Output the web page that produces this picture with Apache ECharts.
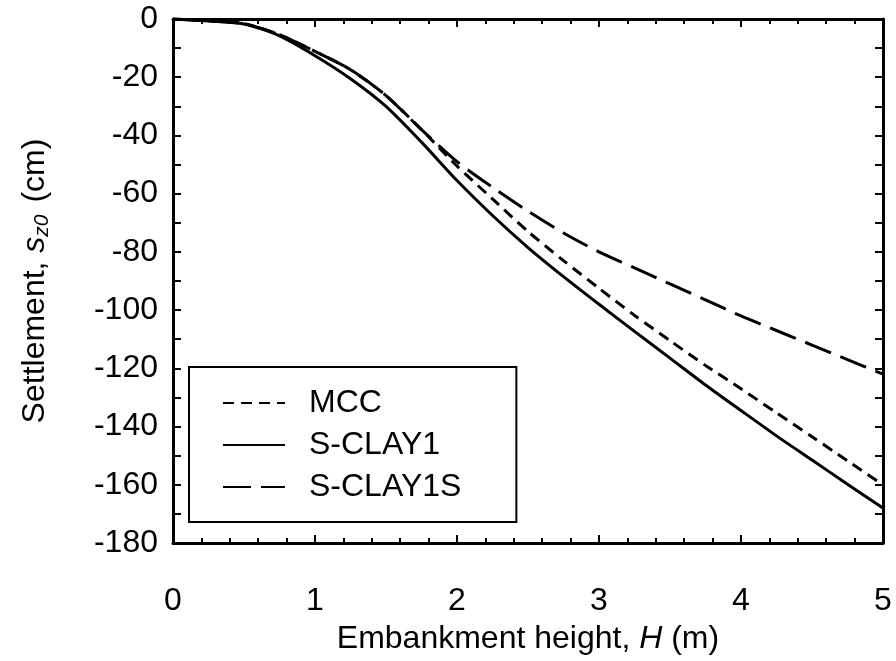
<!DOCTYPE html>
<html>
<head>
<meta charset="utf-8">
<script src="https://cdn.jsdelivr.net/npm/echarts@6/dist/echarts.min.js"></script>
<style>
  html, body { margin: 0; padding: 0; background: #fff; }
  #chart { width: 896px; height: 661px; }
</style>
</head>
<body>
<div id="chart"></div>
<script>
// Embankment height H (m)
var heights = [0, 0.25, 0.5, 0.75, 1.0, 1.25, 1.5, 1.75, 2.0, 2.25, 2.5, 2.75, 3.0, 3.25, 3.5, 3.75, 4.0, 4.25, 4.5, 4.75, 5.0];

// Centre-line settlement s_z0 (cm) for each constitutive model
var mccSettlement = [0, -0.6, -1.6, -5.4, -11.1, -17.4, -26.3, -38.0, -50.5, -61.8, -73.0, -83.0, -92.5, -101.8, -110.5, -119.0, -127.0, -135.3, -143.5, -151.8, -160.0];
var sclay1Settlement = [0, -0.7, -1.7, -5.8, -12.6, -20.5, -30.0, -42.3, -55.5, -67.5, -78.5, -88.5, -98.0, -107.3, -116.5, -125.7, -134.5, -143.2, -151.5, -159.8, -168.0];
var sclay1sSettlement = [0, -0.6, -1.6, -5.4, -11.1, -17.4, -26.3, -38.0, -49.0, -57.8, -66.0, -73.5, -80.0, -85.5, -91.0, -96.5, -102.0, -107.0, -112.0, -117.0, -122.0];

var seriesNames = ['MCC', 'S-CLAY1', 'S-CLAY1S'];

var FONT = "'Liberation Sans', Arial, Helvetica, sans-serif";
var FS = 32;

function pairs(xs, ys) {
  return xs.map(function (x, i) { return [x, ys[i]]; });
}

var chart = echarts.init(document.getElementById('chart'), null, { renderer: 'canvas' });

var axisLine = { onZero: false, lineStyle: { color: '#000', width: 3 } };
var xTick = { inside: true, length: 8, lineStyle: { color: '#000', width: 2 } };
var xMinor = { show: true, splitNumber: 5, length: 5, lineStyle: { color: '#000', width: 2 } };
var yTick = { inside: true, length: 8, lineStyle: { color: '#000', width: 2 } };
var yMinor = { show: true, splitNumber: 2, length: 8, lineStyle: { color: '#000', width: 2 } };

var option = {
  backgroundColor: '#fff',
  animation: false,
  grid: { left: 173, right: 13, top: 19, bottom: 118, containLabel: false },
  xAxis: [
    {
      type: 'value', min: 0, max: 5, interval: 1, position: 'bottom',
      axisLine: axisLine, axisTick: xTick, minorTick: xMinor,
      splitLine: { show: false },
      axisLabel: { margin: 42, fontSize: FS, color: '#000', fontFamily: FONT },
      name: '{a|Embankment height, }{i|H}{a| (m)}',
      nameLocation: 'middle', nameGap: 80,
      nameTextStyle: {
        rich: {
          a: { fontSize: FS, color: '#000', fontFamily: FONT },
          i: { fontSize: FS, color: '#000', fontFamily: FONT, fontStyle: 'italic' }
        }
      }
    },
    {
      type: 'value', min: 0, max: 5, interval: 1, position: 'top',
      axisLine: axisLine, axisTick: xTick, minorTick: xMinor,
      splitLine: { show: false }, axisLabel: { show: false }
    }
  ],
  yAxis: [
    {
      type: 'value', min: -180, max: 0, interval: 20, position: 'left',
      axisLine: axisLine, axisTick: yTick, minorTick: yMinor,
      splitLine: { show: false },
      axisLabel: { margin: 15, fontSize: FS, color: '#000', fontFamily: FONT },
      name: '{a|Settlement, }{i|s}{sub|z0}{a| (cm)}',
      nameLocation: 'middle', nameGap: 119, nameRotate: 90,
      nameTextStyle: {
        rich: {
          a: { fontSize: FS, color: '#000', fontFamily: FONT, lineHeight: 38 },
          i: { fontSize: FS, color: '#000', fontFamily: FONT, fontStyle: 'italic', lineHeight: 38 },
          sub: { fontSize: 21, color: '#000', fontFamily: FONT, fontStyle: 'italic', lineHeight: 38, padding: [15, 3, 0, 0] }
        }
      }
    },
    {
      type: 'value', min: -180, max: 0, interval: 20, position: 'right',
      axisLine: axisLine, axisTick: yTick, minorTick: yMinor,
      splitLine: { show: false }, axisLabel: { show: false }
    }
  ],
  legend: {
    orient: 'vertical', left: 189, top: 367,
    borderColor: '#000', borderWidth: 2, borderRadius: 0,
    padding: [20, 55, 19, 33],
    itemWidth: 62, itemHeight: 30, itemGap: 10,
    itemStyle: { opacity: 0 },
    textStyle: { fontSize: FS, color: '#000', fontFamily: FONT, padding: [0, 0, 0, 19] },
    data: seriesNames
  },
  series: [
    {
      name: seriesNames[0], type: 'line', data: pairs(heights, mccSettlement),
      symbol: 'none', smooth: 0.25,
      lineStyle: { color: '#000', width: 3, type: [11, 7] }
    },
    {
      name: seriesNames[1], type: 'line', data: pairs(heights, sclay1Settlement),
      symbol: 'none', smooth: 0.25,
      lineStyle: { color: '#000', width: 3, type: 'solid' }
    },
    {
      name: seriesNames[2], type: 'line', data: pairs(heights, sclay1sSettlement),
      symbol: 'none', smooth: 0.25,
      lineStyle: { color: '#000', width: 3, type: [28, 10] }
    }
  ]
};

chart.setOption(option);
</script>
</body>
</html>
